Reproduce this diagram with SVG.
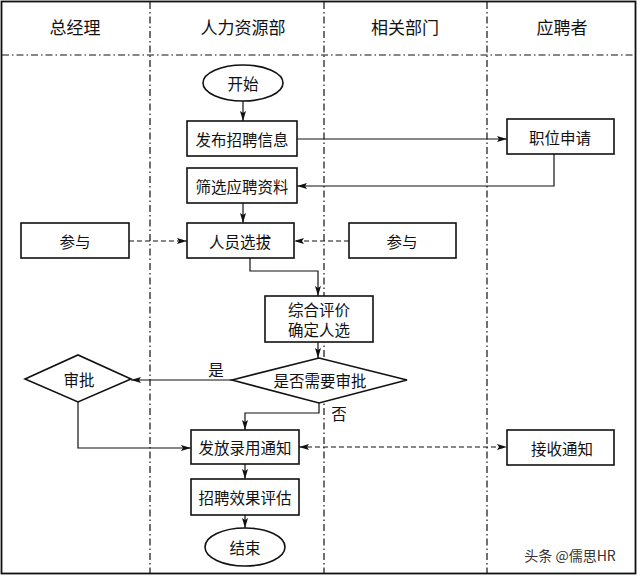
<svg xmlns="http://www.w3.org/2000/svg" width="640" height="579" viewBox="0 0 640 579">
<defs>
<marker id="ah" viewBox="0 0 10 6" refX="10" refY="3" markerWidth="10" markerHeight="6" markerUnits="userSpaceOnUse" orient="auto-start-reverse">
<path d="M0,0 L10,3 L0,6 L2,3 z" fill="#111"/>
</marker>
</defs>
<style>
.t{font-family:"Noto Sans CJK SC","Liberation Sans",sans-serif;font-size:15.5px;fill:#111;text-anchor:middle;dominant-baseline:central}
.h{font-size:17px}
.b{fill:#fff;stroke:#111;stroke-width:1.6}
.c{fill:none;stroke:#111;stroke-width:1.2}
.d{stroke-dasharray:5,3}
.lane{stroke:#111;stroke-width:1.2;stroke-dasharray:7,3,1.5,3;fill:none}
</style>
<rect x="0" y="0" width="640" height="579" fill="#fff"/>
<g id="frame">
<rect x="1.5" y="1.5" width="634" height="572" fill="none" stroke="#111" stroke-width="1.8"/>
<line class="lane" x1="2" y1="55" x2="635" y2="55"/>
<line class="lane" x1="150" y1="2" x2="150" y2="573"/>
<line class="lane" x1="324" y1="2" x2="324" y2="573"/>
<line class="lane" x1="487" y1="2" x2="487" y2="573"/>
</g>
<g id="headers">
<text class="t h" x="75" y="26">总经理</text>
<text class="t h" x="243" y="26">人力资源部</text>
<text class="t h" x="405" y="26">相关部门</text>
<text class="t h" x="562" y="26">应聘者</text>
</g>
<g id="connectors">
<path class="c" d="M243,101 V121" marker-end="url(#ah)"/>
<path class="c" d="M297,139 H507" marker-end="url(#ah)"/>
<path class="c" d="M554,154 V186 H297" marker-end="url(#ah)"/>
<path class="c" d="M243,203 V223" marker-end="url(#ah)"/>
<path class="c d" d="M129,241 H187" marker-end="url(#ah)"/>
<path class="c d" d="M349,241 H294" marker-end="url(#ah)"/>
<path class="c" d="M250,258 V271 H318 V296" marker-end="url(#ah)"/>
<path class="c" d="M318,342 V358" marker-end="url(#ah)"/>
<path class="c" d="M232,380 H131" marker-end="url(#ah)"/>
<path class="c" d="M319,403 V413 H245 V430" marker-end="url(#ah)"/>
<path class="c" d="M78,402 V448 H191" marker-end="url(#ah)"/>
<path class="c d" d="M299,447 H507" marker-start="url(#ah)" marker-end="url(#ah)"/>
<path class="c" d="M245,464 V479" marker-end="url(#ah)"/>
<path class="c" d="M245,515 V528" marker-end="url(#ah)"/>
<text class="t" x="216" y="369">是</text>
<text class="t" x="339" y="413">否</text>
</g>
<g id="start"><ellipse class="b" cx="243" cy="83" rx="40" ry="18"/><text class="t" x="243" y="83">开始</text></g>
<g id="publish"><rect class="b" x="187" y="121" width="110" height="35"/><text class="t" x="242" y="138.5">发布招聘信息</text></g>
<g id="apply"><rect class="b" x="507" y="119" width="107" height="35"/><text class="t" x="560" y="136.5">职位申请</text></g>
<g id="screen"><rect class="b" x="187" y="168" width="110" height="35"/><text class="t" x="242" y="185.5">筛选应聘资料</text></g>
<g id="gm-join"><rect class="b" x="21" y="223" width="108" height="35"/><text class="t" x="75" y="240.5">参与</text></g>
<g id="select"><rect class="b" x="187" y="223" width="107" height="35"/><text class="t" x="240" y="240.5">人员选拔</text></g>
<g id="dept-join"><rect class="b" x="349" y="223" width="107" height="35"/><text class="t" x="402" y="240.5">参与</text></g>
<g id="evaluate"><rect class="b" x="265" y="296" width="108" height="46"/><text class="t" x="319" y="309">综合评价</text><text class="t" x="319" y="329">确定人选</text></g>
<g id="need-approve"><polygon class="b" points="232,380 319,358 407,380 319,403"/><text class="t" x="320" y="380">是否需要审批</text></g>
<g id="approve"><polygon class="b" points="25,379 78,355 131,379 78,402"/><text class="t" x="79" y="379">审批</text></g>
<g id="notify"><rect class="b" x="191" y="430" width="108" height="34"/><text class="t" x="245" y="447">发放录用通知</text></g>
<g id="receive"><rect class="b" x="507" y="430" width="107" height="35"/><text class="t" x="562" y="447.5">接收通知</text></g>
<g id="assess"><rect class="b" x="191" y="479" width="108" height="36"/><text class="t" x="245" y="497">招聘效果评估</text></g>
<g id="end"><ellipse class="b" cx="245" cy="547" rx="40" ry="19"/><text class="t" x="245" y="547">结束</text></g>
<g id="watermark"><text class="t" x="570" y="555" style="font-size:14px;fill:#333">头条 @儒思HR</text></g>
</svg>
